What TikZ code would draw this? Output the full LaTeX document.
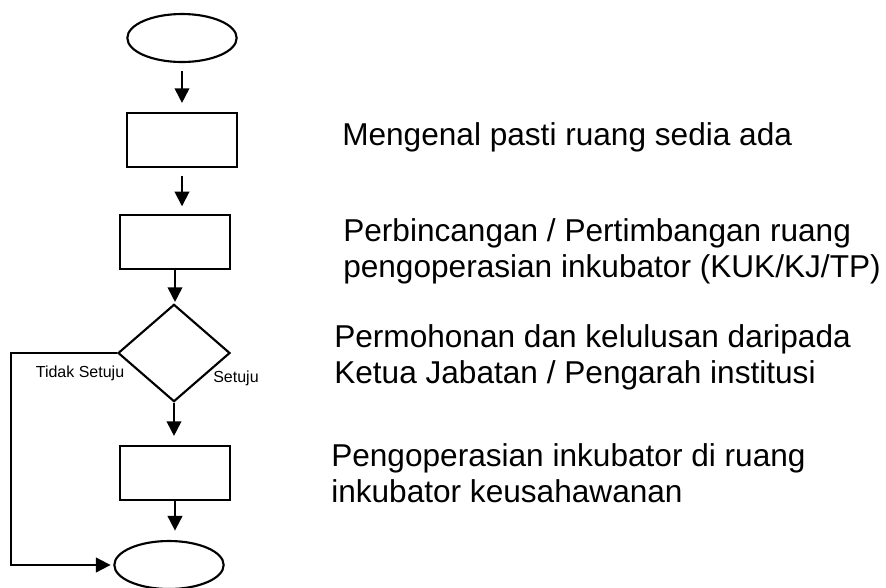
\documentclass[tikz,border=0pt]{standalone}
\usepackage{fontspec}
\setmainfont{Liberation Sans}
\usepackage{tikz}
\usetikzlibrary{arrows.meta,positioning,shapes.geometric}

\begin{document}
\begin{tikzpicture}[x=0.75pt,y=-0.75pt,
  box/.style={draw,line width=1.6pt,minimum width=82pt,minimum height=40pt,inner sep=0pt},
  term/.style={draw,ellipse,line width=1.6pt,minimum width=82pt,minimum height=36pt,inner sep=0pt},
  ask/.style={draw,diamond,line width=1.6pt,minimum width=84pt,minimum height=73pt,inner sep=0pt},
  flow/.style={line width=1.4pt,-{Triangle[length=11pt,width=11pt]}},
  note/.style={anchor=base west,align=left,font=\fontsize{23.7}{27}\selectfont,inner sep=0pt},
  tag/.style={anchor=base,font=\fontsize{12}{14}\selectfont,inner sep=0pt}]
  \useasboundingbox (0,0) rectangle (886,587); %整幅图的范围
  \node[term] (start) at (182,38) {};
  \node[box] (s1) at (182,140) {};
  \node[box] (s2) at (175,242) {};
  \node[ask] (ask) at (174,353) {};
  \node[box] (s3) at (175,473) {};
  \node[term] (finish) at (169,565) {};
  \draw[flow,shorten <=6pt,shorten >=7pt] (start.south) -- (start.south |- s1.north);
  \draw[flow,shorten <=6pt,shorten >=6pt] (s1.south) -- (s1.south |- s2.north);
  \draw[flow,shorten >=1pt] (s2.south) -- (s2.south |- ask.north);
  \draw[flow,shorten >=7pt] (ask.south) -- (ask.south |- s3.north);
  \draw[flow,shorten >=7pt] (s3.south) -- (s3.south |- finish.north);
  \draw[flow,shorten >=2pt] (ask.west) -- ++(-106,0) |- (finish.west); %不同意时直接到结束
  \node[tag] (no) at (80,377) {Tidak Setuju};
  \node[tag] (yes) at (236,382) {Setuju};
  \node[note] (t1) at (342,145) {Mengenal pasti ruang sedia ada};
  \node[note] (t2) at (343,277) {Perbincangan / Pertimbangan ruang\\pengoperasian inkubator (KUK/KJ/TP)};
  \node[note] (t3) at (334,383) {Permohonan dan kelulusan daripada\\Ketua Jabatan / Pengarah institusi};
  \node[note] (t4) at (331,502) {Pengoperasian inkubator di ruang\\inkubator keusahawanan};
\end{tikzpicture}
\end{document}
